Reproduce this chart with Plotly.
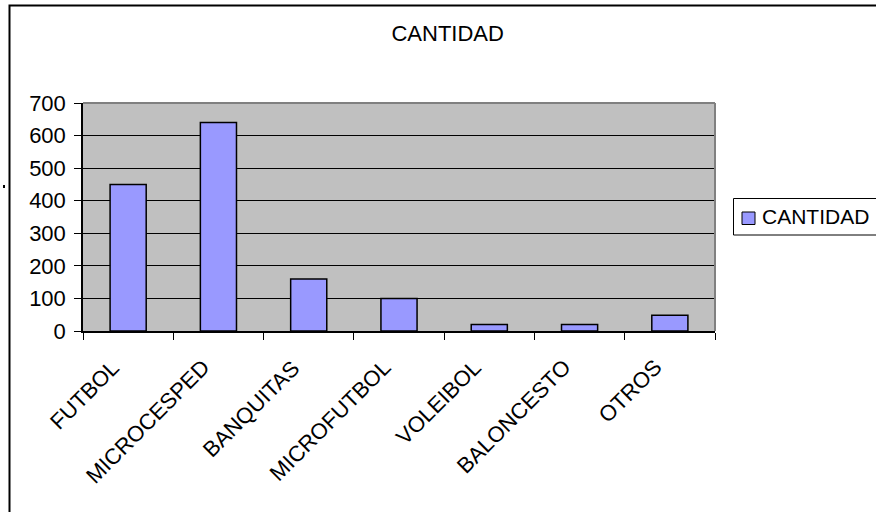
import plotly.graph_objects as go

# Data
categories = ["FUTBOL", "MICROCESPED", "BANQUITAS", "MICROFUTBOL",
              "VOLEIBOL", "BALONCESTO", "OTROS"]
cantidad = [450, 640, 160, 100, 20, 20, 48]
series_name = "CANTIDAD"
y_ticks = [0, 100, 200, 300, 400, 500, 600, 700]

W, H = 876, 512
ML, MR, MT, MB = 83, 161, 103, 181
PW, PH = W - ML - MR, H - MT - MB


def px_x(px):
    """pixel x -> paper x"""
    return (px - ML) / PW


def px_y(py):
    """pixel y (from top) -> paper y"""
    return (H - MB - py) / PH


FONT = "Liberation Sans, Arial, sans-serif"
BAR_COLOR = "#9999FF"

fig = go.Figure()
fig.add_trace(go.Bar(
    x=categories,
    y=cantidad,
    name=series_name,
    width=0.4,
    marker=dict(color=BAR_COLOR, line=dict(color="#000000", width=1.5)),
    showlegend=False,
))

fig.update_layout(
    width=W,
    height=H,
    margin=dict(l=ML, r=MR, t=MT, b=MB, pad=0, autoexpand=False),
    paper_bgcolor="#FFFFFF",
    plot_bgcolor="#C0C0C0",
    font=dict(family=FONT, color="#000000"),
    title=dict(
        text="CANTIDAD",
        x=447.7 / W, xref="container", xanchor="center",
        y=1 - 33.5 / H, yref="container", yanchor="middle",
        font=dict(size=22, family=FONT, color="#000000"),
    ),
    showlegend=False,
)

fig.update_xaxes(
    type="category",
    range=[-0.5, len(categories) - 0.5],
    showline=True, linecolor="#000000", linewidth=1.5,
    ticks="outside", tickson="boundaries", ticklen=7,
    tickcolor="#000000", tickwidth=1,
    showticklabels=False,
    showgrid=False, zeroline=False,
)

fig.update_yaxes(
    range=[0, 700],
    tickvals=y_ticks,
    showline=True, linecolor="#000000", linewidth=1.5,
    ticks="outside", ticklen=7, tickcolor="#000000", tickwidth=1,
    tickfont=dict(size=22, family=FONT, color="#000000"),
    ticklabelstandoff=4,
    showgrid=True, gridcolor="#000000", gridwidth=1,
    zeroline=False,
)

# slanted category labels, ending just under each category centre
for cat in categories:
    fig.add_annotation(
        x=cat, xref="x", y=px_y(352), yref="paper",
        text=cat, textangle=-45, showarrow=False,
        xanchor="right", yanchor="top", xshift=-1,
        font=dict(size=22, family=FONT, color="#000000"),
    )

# grey frame on the top and right of the plot area
fig.add_shape(type="line", xref="x domain", yref="y domain",
              x0=0, x1=1, y0=1, y1=1, layer="above",
              line=dict(color="#808080", width=2))
fig.add_shape(type="line", xref="x domain", yref="y domain",
              x0=1, x1=1, y0=0, y1=1, layer="above",
              line=dict(color="#808080", width=2))

# legend box with a swatch and the series name
fig.add_shape(type="rect", xref="paper", yref="paper",
              x0=px_x(733.5), x1=px_x(W + 30), y0=px_y(235), y1=px_y(198.5),
              line=dict(color="#000000", width=1), fillcolor="#FFFFFF")
fig.add_shape(type="rect", xref="paper", yref="paper",
              x0=px_x(742), x1=px_x(755), y0=px_y(224.5), y1=px_y(212),
              line=dict(color="#000000", width=1), fillcolor=BAR_COLOR)
fig.add_annotation(
    x=px_x(760), xref="paper", y=px_y(216), yref="paper",
    text=series_name, showarrow=False, xanchor="left", yanchor="middle",
    font=dict(size=21, family=FONT, color="#000000"),
)

# outer chart border (runs past the right and bottom edges)
fig.add_shape(type="rect", xref="paper", yref="paper",
              x0=px_x(9.5), x1=px_x(W + 20), y0=px_y(H + 20), y1=px_y(5.5),
              line=dict(color="#000000", width=2), fillcolor="rgba(0,0,0,0)",
              layer="above")
# small stray mark left of the border
fig.add_shape(type="rect", xref="paper", yref="paper",
              x0=px_x(3), x1=px_x(5), y0=px_y(188), y1=px_y(185),
              line=dict(width=0), fillcolor="#000000", layer="above")

fig.write_html("out.html")
